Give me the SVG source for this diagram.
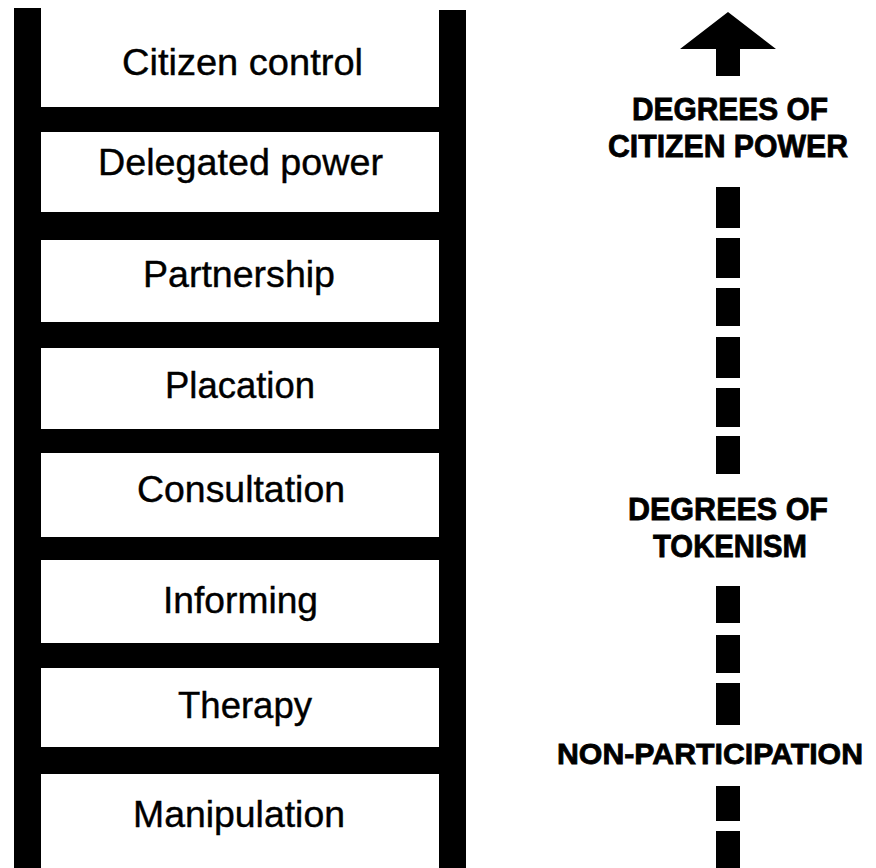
<svg xmlns="http://www.w3.org/2000/svg" width="876" height="868" viewBox="0 0 876 868">
<style>
.bar{fill:#000}
.step{font-family:"Liberation Sans",Arial,sans-serif;font-size:37px;fill:#000;stroke:#000;stroke-width:0.4}
.lvl{font-family:"Liberation Sans",Arial,sans-serif;font-size:32px;font-weight:bold;fill:#000;stroke:#000;stroke-width:0.8}
.nonp{font-size:30px}
.dash{fill:#000}
</style>
<rect width="876" height="868" fill="#fff"/>
<g id="ladder">
<rect class="bar" x="14" y="8" width="27" height="860"/>
<rect class="bar" x="439" y="10" width="27" height="858"/>
<rect class="bar" x="41" y="107" width="398" height="25"/>
<rect class="bar" x="41" y="212" width="398" height="28"/>
<rect class="bar" x="41" y="322" width="398" height="26"/>
<rect class="bar" x="41" y="429" width="398" height="24"/>
<rect class="bar" x="41" y="537" width="398" height="23"/>
<rect class="bar" x="41" y="643" width="398" height="25"/>
<rect class="bar" x="41" y="747" width="398" height="27"/>
</g>
<g id="citizen-control"><text class="step" x="122" y="75" textLength="241" lengthAdjust="spacingAndGlyphs">Citizen control</text></g>
<g id="delegated-power"><text class="step" x="98" y="175" textLength="285" lengthAdjust="spacingAndGlyphs">Delegated power</text></g>
<g id="partnership"><text class="step" x="143" y="287" textLength="192" lengthAdjust="spacingAndGlyphs">Partnership</text></g>
<g id="placation"><text class="step" x="165" y="398" textLength="150" lengthAdjust="spacingAndGlyphs">Placation</text></g>
<g id="consultation"><text class="step" x="137" y="502" textLength="208" lengthAdjust="spacingAndGlyphs">Consultation</text></g>
<g id="informing"><text class="step" x="163" y="613" textLength="155" lengthAdjust="spacingAndGlyphs">Informing</text></g>
<g id="therapy"><text class="step" x="178" y="718" textLength="134" lengthAdjust="spacingAndGlyphs">Therapy</text></g>
<g id="manipulation"><text class="step" x="133" y="827" textLength="212" lengthAdjust="spacingAndGlyphs">Manipulation</text></g>
<g id="connectors">
<polygon class="dash" points="728,12 776,49 740,49 740,76 716,76 716,49 680,49"/>
<rect class="dash" x="716" y="187" width="24" height="41"/>
<rect class="dash" x="716" y="238" width="24" height="40"/>
<rect class="dash" x="716" y="288" width="24" height="38"/>
<rect class="dash" x="716" y="337" width="24" height="41"/>
<rect class="dash" x="716" y="388" width="24" height="39"/>
<rect class="dash" x="716" y="436" width="24" height="38"/>
<rect class="dash" x="716" y="586" width="24" height="37"/>
<rect class="dash" x="716" y="635" width="24" height="38"/>
<rect class="dash" x="716" y="683" width="24" height="42"/>
<rect class="dash" x="716" y="786" width="24" height="35"/>
<rect class="dash" x="716" y="831" width="24" height="37"/>
</g>
<g id="citizen-power"><text class="lvl" x="632" y="120" textLength="196" lengthAdjust="spacingAndGlyphs">DEGREES OF</text><text class="lvl" x="608" y="157" textLength="240" lengthAdjust="spacingAndGlyphs">CITIZEN POWER</text></g>
<g id="tokenism"><text class="lvl" x="628" y="520" textLength="200" lengthAdjust="spacingAndGlyphs">DEGREES OF</text><text class="lvl" x="653" y="557" textLength="154" lengthAdjust="spacingAndGlyphs">TOKENISM</text></g>
<g id="non-participation"><text class="lvl nonp" x="557" y="764" textLength="306" lengthAdjust="spacingAndGlyphs">NON-PARTICIPATION</text></g>
</svg>
